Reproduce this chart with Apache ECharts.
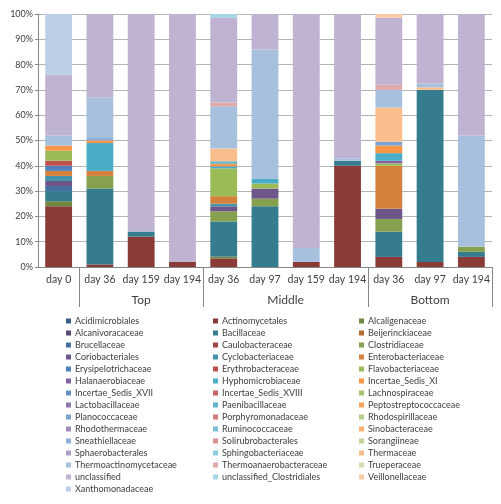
<!DOCTYPE html>
<html>
<head>
<meta charset="utf-8">
<script src="https://cdn.jsdelivr.net/npm/echarts@6/dist/echarts.min.js"></script>
<style>html,body{margin:0;padding:0;background:#fff}#c{width:501px;height:504px}</style>
</head>
<body>
<div id="c"></div>
<script>
const categories = ['day 0','day 36','day 159','day 194','day 36','day 97','day 159','day 194','day 36','day 97','day 194'];
const categoryGroup = ['', 'Top','Top','Top','Middle','Middle','Middle','Middle','Bottom','Bottom','Bottom'];
const yTicks = [0,10,20,30,40,50,60,70,80,90,100];

const seriesNames = ['Acidimicrobiales','Actinomycetales','Alcaligenaceae','Alcanivoracaceae','Bacillaceae','Beijerinckiaceae','Brucellaceae','Caulobacteraceae','Clostridiaceae','Coriobacteriales','Cyclobacteriaceae','Enterobacteriaceae','Erysipelotrichaceae','Erythrobacteraceae','Flavobacteriaceae','Halanaerobiaceae','Hyphomicrobiaceae','Incertae_Sedis_XI','Incertae_Sedis_XVII','Incertae_Sedis_XVIII','Lachnospiraceae','Lactobacillaceae','Paenibacillaceae','Peptostreptococcaceae','Planococcaceae','Porphyromonadaceae','Rhodospirillaceae','Rhodothermaceae','Ruminococcaceae','Sinobacteraceae','Sneathiellaceae','Solirubrobacterales','Sorangiineae','Sphaerobacterales','Sphingobacteriaceae','Thermaceae','Thermoactinomycetaceae','Thermoanaerobacteraceae','Trueperaceae','unclassified','unclassified_Clostridiales','Veillonellaceae','Xanthomonadaceae'];

// percent per sample (columns follow categories)
const seriesValues = {
  'Actinomycetales':          [24, 1, 12, 2, 3.4, 0, 2, 40, 4, 2, 4],
  'Alcaligenaceae':           [2, 0, 0, 0, 0.7, 0, 0, 0, 0, 0, 0],
  'Bacillaceae':              [4, 30, 2, 0, 13.9, 24, 0, 2, 10, 68, 2],
  'Brucellaceae':             [2, 0, 0, 0, 0, 0, 0, 0, 0, 0, 0],
  'Clostridiaceae':           [0, 5, 0, 0, 4, 3, 0, 0, 5, 0, 2],
  'Coriobacteriales':         [2, 0, 0, 0, 2, 4, 0, 0, 4, 0, 0],
  'Cyclobacteriaceae':        [2, 0, 0, 0, 1, 0, 0, 0, 0, 0, 0],
  'Enterobacteriaceae':       [2, 2, 0, 0, 3, 0, 0, 0, 17, 0, 0],
  'Erysipelotrichaceae':      [2, 0, 0, 0, 0, 0, 0, 0, 0, 0, 0],
  'Erythrobacteraceae':       [2, 0, 0, 0, 0, 0, 0, 0, 0, 0, 0],
  'Flavobacteriaceae':        [4, 0, 0, 0, 11, 2, 0, 0, 1, 0, 0],
  'Halanaerobiaceae':         [0, 0, 0, 0, 0, 0, 0, 0, 1, 0, 0],
  'Hyphomicrobiaceae':        [0, 11, 0, 0, 0.8, 2, 0, 0, 3, 0, 0],
  'Incertae_Sedis_XI':        [2, 1, 0, 0, 1, 0, 0, 0, 3, 0, 0],
  'Paenibacillaceae':         [0, 0, 0, 0, 1, 0, 0, 0, 0, 0, 0],
  'Planococcaceae':           [0, 0, 0, 0, 0, 0, 0, 0, 1.5, 0, 0],
  'Sneathiellaceae':          [0, 1, 0, 0, 0, 0, 0, 0, 0, 0, 0],
  'Thermaceae':               [0, 0, 0, 0, 5, 0, 0, 0, 13.5, 1, 0],
  'Thermoactinomycetaceae':   [4, 16, 0, 0, 16.7, 51, 5.5, 1, 7, 1.5, 44],
  'Thermoanaerobacteraceae':  [0, 0, 0, 0, 1.5, 0, 0, 0, 2, 0, 0],
  'unclassified':             [24, 33, 86, 98, 33.5, 14, 92.5, 57, 26.5, 27.5, 48],
  'unclassified_Clostridiales':[0, 0, 0, 0, 1.5, 0, 0, 0, 0, 0, 0],
  'Veillonellaceae':          [0, 0, 0, 0, 0, 0, 0, 0, 1.5, 0, 0],
  'Xanthomonadaceae':         [24, 0, 0, 0, 0, 0, 0, 0, 0, 0, 0]
};

// Excel-like palette: 6 accents, varied in shade per round
const accents = ['#4F81BD','#C0504D','#9BBB59','#8064A2','#4BACC6','#F79646'];
const levels = [-0.28, -0.14, 0, 0.12, 0.25, 0.38, 0.5, 0.62];
function vary(hex, f) {
  const n = parseInt(hex.slice(1), 16);
  let rgb = [(n >> 16) & 255, (n >> 8) & 255, n & 255];
  rgb = rgb.map(c => f < 0 ? Math.round(c * (1 + f)) : Math.round(c + (255 - c) * f));
  return 'rgb(' + rgb.join(',') + ')';
}
const colors = seriesNames.map((n, i) => vary(accents[i % 6], levels[Math.floor(i / 6)]));

// group spans on the secondary axis
const groupSpans = [];
categoryGroup.forEach((g, i) => {
  if (!g) return;
  const last = groupSpans[groupSpans.length - 1];
  if (last && last.name === g) last.end = i + 1;
  else groupSpans.push({ name: g, start: i, end: i + 1 });
});
const groupTicks = groupSpans.map(s => s.start).concat([categories.length]);
const groupCenters = groupSpans.map(s => (s.start + s.end) / 2);

const FONT = 'Lato';
const series = seriesNames.map((name, i) => ({
  name: name,
  type: 'bar',
  stack: 'total',
  xAxisIndex: 0,
  barWidth: '65%',
  itemStyle: { color: colors[i] },
  data: (seriesValues[name] || categories.map(() => 0))
}));

const cols = [0, 1, 2].map(c => seriesNames.filter((n, i) => i % 3 === c));
const legendLeft = [66, 213, 359];
const legends = cols.map((d, c) => ({
  orient: 'vertical',
  left: legendLeft[c],
  top: 315,
  height: 189,
  padding: 0,
  data: d.map(n => ({ name: n, icon: 'rect' })),
  itemWidth: 5,
  itemHeight: 5,
  itemGap: 0,
  selectedMode: false,
  textStyle: { fontFamily: FONT, fontSize: 9, color: '#404040', lineHeight: 12, padding: [0, 0, 0, -1] }
}));

const chart = echarts.init(document.getElementById('c'), null, { renderer: 'canvas' });
chart.setOption({
  animation: false,
  color: colors,
  grid: { left: 38, right: 9, top: 14, bottom: 237, containLabel: false },
  legend: legends,
  xAxis: [
    {
      type: 'category',
      data: categories,
      boundaryGap: true,
      axisLine: { lineStyle: { color: '#868686' } },
      axisTick: { length: 4, lineStyle: { color: '#868686' } },
      axisLabel: { fontFamily: FONT, fontSize: 10.5, color: '#404040', margin: 7, interval: 0 }
    },
    {
      type: 'value',
      position: 'bottom',
      min: 0,
      max: categories.length,
      axisLine: { show: false },
      splitLine: { show: false },
      axisTick: { show: true, customValues: groupTicks, length: 40, lineStyle: { color: '#868686' } },
      axisLabel: {
        customValues: groupCenters,
        fontFamily: FONT, fontSize: 12, color: '#404040', margin: 27,
        formatter: v => { const s = groupSpans.find(g => Math.abs((g.start + g.end) / 2 - v) < 1e-6); return s ? s.name : ''; }
      }
    }
  ],
  yAxis: {
    type: 'value',
    min: 0, max: 100, interval: 10,
    axisLine: { show: true, lineStyle: { color: '#868686' } },
    axisTick: { show: true, length: 3, lineStyle: { color: '#868686' } },
    splitLine: { lineStyle: { color: '#b4b4b4' } },
    axisLabel: { fontFamily: FONT, fontSize: 9, color: '#404040', margin: 5, formatter: v => yTicks.includes(v) ? v + '%' : '' }
  },
  series: series
});
</script>
</body>
</html>
